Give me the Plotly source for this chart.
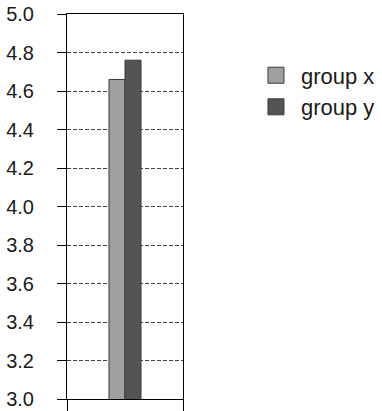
import plotly.graph_objects as go

categories = ["group"]
series_names = ["group x", "group y"]
group_x_values = [4.66]
group_y_values = [4.76]
bar_colors = ["#a0a0a3", "#545456"]
y_tick_values = [3.0, 3.2, 3.4, 3.6, 3.8, 4.0, 4.2, 4.4, 4.6, 4.8, 5.0]
y_tick_labels = ["3.0", "3.2", "3.4", "3.6", "3.8", "4.0", "4.2", "4.4", "4.6", "4.8", "5.0"]

fig = go.Figure()
for name, vals, col in zip(series_names, [group_x_values, group_y_values], bar_colors):
    fig.add_trace(go.Bar(
        x=categories, y=vals, name=name, showlegend=False,
        marker=dict(color=col, line=dict(color="#3a3a3a", width=1)),
    ))
# legend entries with larger square swatches
for name, col in zip(series_names, bar_colors):
    fig.add_trace(go.Scatter(
        x=[None], y=[None], mode="markers", name=name,
        marker=dict(symbol="square", size=16, color=col, line=dict(color="#3a3a3a", width=1)),
    ))

fig.update_layout(
    width=382, height=411,
    margin=dict(l=67, r=199, t=14, b=12, autoexpand=False),
    paper_bgcolor="white", plot_bgcolor="white",
    barmode="group", bargap=0.724, bargroupgap=0,
    font=dict(family="Liberation Sans, Arial, sans-serif", size=20, color="#1a1a1a"),
    showlegend=True,
    legend=dict(x=1.586, y=0.895, xanchor="left", yanchor="top", itemwidth=40,
                font=dict(size=22), bgcolor="rgba(0,0,0,0)", itemsizing="trace"),
    xaxis=dict(
        type="category", tickson="boundaries", ticks="outside", ticklen=12,
        tickcolor="black", showticklabels=False, showgrid=False, automargin=False,
        showline=True, linecolor="black", linewidth=1, mirror=True,
    ),
    yaxis=dict(
        range=[3.0, 5.0], tickvals=y_tick_values, ticktext=y_tick_labels,
        ticks="outside", ticklen=9, tickcolor="black", automargin=False,
        ticklabeloverflow="allow",
        showline=True, linecolor="black", linewidth=1, mirror=True,
        showgrid=True, gridcolor="#444444", gridwidth=1, griddash="4px,2px",
        zeroline=False, ticklabelstandoff=19,
    ),
)

fig.write_html("out.html")
